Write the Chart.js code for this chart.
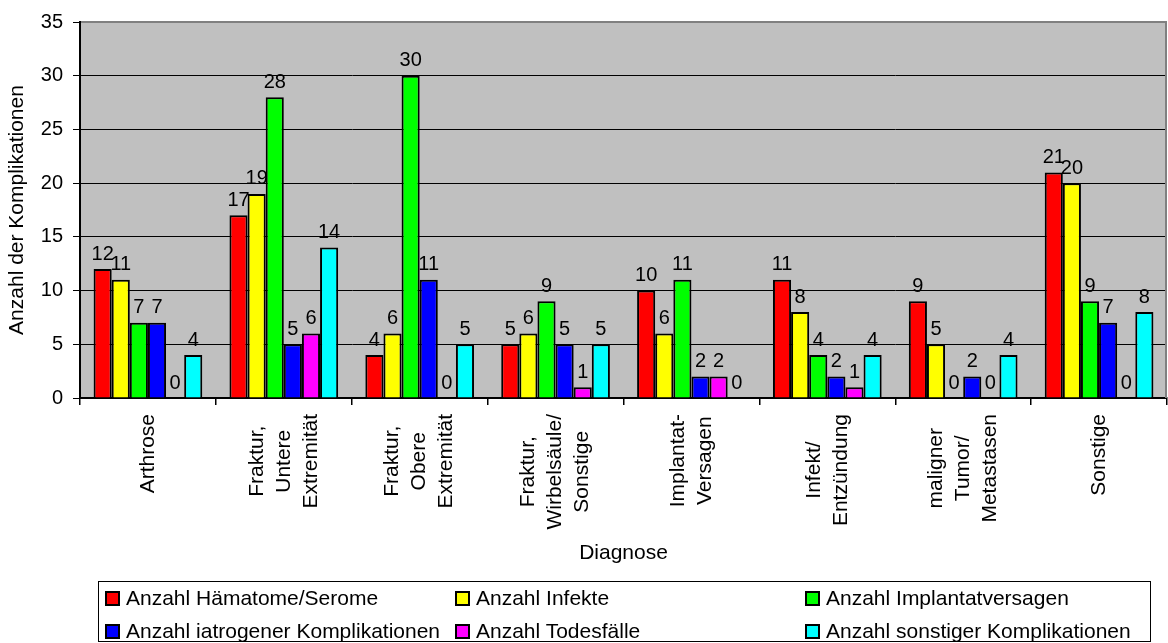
<!DOCTYPE html>
<html>
<head>
<meta charset="utf-8">
<script src="https://cdn.jsdelivr.net/npm/chart.js@4.4.0/dist/chart.umd.min.js"></script>
<style>
  html, body { margin: 0; padding: 0; background: #fff; }
  #wrap { position: relative; width: 1168px; height: 643px; }
  #legend {
    position: absolute; left: 98px; top: 581px; width: 1053px; height: 61px;
    box-sizing: border-box; border: 1px solid #000;
    font: 21px "Liberation Sans", Arial, sans-serif; color: #000;
  }
  .item { position: absolute; display: flex; align-items: center; height: 24px; line-height: 24px; white-space: nowrap; }
  .mark { width: 15px; height: 15px; box-sizing: border-box; border: 2px solid #000; margin-right: 6px; }
</style>
</head>
<body>
<div id="wrap">
  <canvas id="chart" width="1168" height="643"></canvas>
  <div id="legend"></div>
</div>
<script>
const categories = [
    ["Arthrose"],
    ["Fraktur,", "Untere", "Extremität"],
    ["Fraktur,", "Obere", "Extremität"],
    ["Fraktur,", "Wirbelsäule/", "Sonstige"],
    ["Implantat-", "Versagen"],
    ["Infekt/", "Entzündung"],
    ["maligner", "Tumor/", "Metastasen"],
    ["Sonstige"]
];

const seriesNames = [
    "Anzahl Hämatome/Serome",
    "Anzahl Infekte",
    "Anzahl Implantatversagen",
    "Anzahl iatrogener Komplikationen",
    "Anzahl Todesfälle",
    "Anzahl sonstiger Komplikationen"
];
const seriesColors = ["#FF0000", "#FFFF00", "#00FF00", "#0000FF", "#FF00FF", "#00FFFF"];

const haematome   = [12, 17,  4, 5, 10, 11, 9, 21];
const infekte     = [11, 19,  6, 6,  6,  8, 5, 20];
const implantat   = [ 7, 28, 30, 9, 11,  4, 0,  9];
const iatrogen    = [ 7,  5, 11, 5,  2,  2, 2,  7];
const todesfaelle = [ 0,  6,  0, 1,  2,  1, 0,  0];
const sonstige    = [ 4, 14,  5, 5,  0,  4, 4,  8];

const yTicks = [0, 5, 10, 15, 20, 25, 30, 35];

const FONT = '"Liberation Sans", Arial, sans-serif';
const seriesValues = [haematome, infekte, implantat, iatrogen, todesfaelle, sonstige];

// plot background + gray frame on top/right
const plotFrame = {
    id: 'plotFrame',
    beforeDraw(chart) {
        const {ctx, chartArea: a} = chart;
        ctx.save();
        ctx.fillStyle = '#C0C0C0';
        ctx.fillRect(a.left, a.top, a.right - a.left, a.bottom - a.top);
        ctx.restore();
    },
    beforeDatasetsDraw(chart) {
        const {ctx, chartArea: a} = chart;
        ctx.save();
        ctx.strokeStyle = '#808080';
        ctx.lineWidth = 2;
        ctx.beginPath();
        ctx.moveTo(a.left + 1, a.top);
        ctx.lineTo(a.right - 1, a.top);
        ctx.lineTo(a.right - 1, a.bottom);
        ctx.stroke();
        ctx.restore();
    }
};

// value labels above the bars
const valueLabels = {
    id: 'valueLabels',
    afterDatasetsDraw(chart) {
        const ctx = chart.ctx;
        ctx.save();
        ctx.font = '20px ' + FONT;
        ctx.fillStyle = '#000';
        ctx.textAlign = 'center';
        ctx.textBaseline = 'bottom';
        chart.data.datasets.forEach((ds, d) => {
            chart.getDatasetMeta(d).data.forEach((bar, i) => {
                ctx.fillText(String(ds.data[i]), bar.x, bar.y - 5);
            });
        });
        ctx.restore();
    }
};

// rotated, centred multi-line category labels
const categoryLabels = {
    id: 'categoryLabels',
    afterDraw(chart) {
        const ctx = chart.ctx;
        const x = chart.scales.x;
        const lineGap = 27;
        const top = x.top + 16;
        ctx.save();
        ctx.font = '21px ' + FONT;
        ctx.fillStyle = '#000';
        ctx.textAlign = 'center';
        ctx.textBaseline = 'middle';
        categories.forEach((lines, i) => {
            const cx = x.getPixelForValue(i);
            const maxW = Math.max(...lines.map(l => ctx.measureText(l).width));
            const cy = top + maxW / 2;
            lines.forEach((line, j) => {
                ctx.save();
                ctx.translate(cx + (j - (lines.length - 1) / 2) * lineGap, cy);
                ctx.rotate(-Math.PI / 2);
                ctx.fillText(line, 0, 0);
                ctx.restore();
            });
        });
        ctx.restore();
    }
};

const chartData = {
    labels: categories.map(c => c.join(' ')),
    datasets: seriesNames.map((name, k) => ({
        label: name,
        data: seriesValues[k],
        backgroundColor: seriesColors[k],
        borderColor: '#000',
        borderWidth: 2,
        categoryPercentage: 0.8,
        barPercentage: 1.0
    }))
};

const chartOption = {
    responsive: false,
    animation: false,
    layout: { padding: { top: 20, right: 1, bottom: 73, left: 0 } },
    plugins: {
        legend: { display: false },
        tooltip: { enabled: false }
    },
    scales: {
        x: {
            ticks: { display: false },
            grid: { drawOnChartArea: false, drawTicks: true, tickLength: 7, color: '#000', lineWidth: 1.5 },
            border: { color: '#000', width: 2 },
            title: { display: true, text: 'Diagnose', color: '#000', font: { family: FONT, size: 21 }, padding: { top: 0, bottom: 4 } },
            afterFit(scale) { scale.height = 172; }
        },
        y: {
            min: 0,
            max: 35,
            afterBuildTicks(scale) { scale.ticks = yTicks.map(v => ({value: v})); },
            ticks: { color: '#000', padding: 10, font: { family: FONT, size: 20 } },
            grid: { color: '#000', lineWidth: 1, tickLength: 7 },
            border: { color: '#000', width: 2 },
            title: { display: true, text: 'Anzahl der Komplikationen', color: '#000', font: { family: FONT, size: 21 }, padding: { top: 5, bottom: 0 } },
            afterFit(scale) { scale.width = 80; }
        }
    }
};

const chart = new Chart(document.getElementById('chart'), {
    type: 'bar',
    data: chartData,
    options: chartOption,
    plugins: [plotFrame, valueLabels, categoryLabels]
});

// legend in three fixed columns, built from the chart's datasets
const legendCols = [6, 356, 706];
const legendRows = [4, 37];
const legendEl = document.getElementById('legend');
chart.data.datasets.forEach((ds, k) => {
    const item = document.createElement('div');
    item.className = 'item';
    item.style.left = legendCols[k % 3] + 'px';
    item.style.top = legendRows[Math.floor(k / 3)] + 'px';
    const mark = document.createElement('span');
    mark.className = 'mark';
    mark.style.background = ds.backgroundColor;
    const text = document.createElement('span');
    text.textContent = ds.label;
    item.appendChild(mark);
    item.appendChild(text);
    legendEl.appendChild(item);
});
</script>
</body>
</html>
